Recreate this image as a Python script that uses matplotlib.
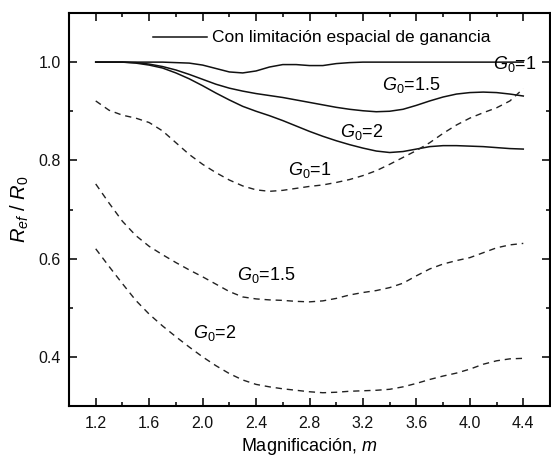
import matplotlib
matplotlib.use("Agg")
import matplotlib.pyplot as plt
import numpy as np

plt.rcParams["font.family"] = ["Liberation Sans", "DejaVu Sans"]
plt.rcParams["mathtext.fontset"] = "custom"
plt.rcParams["mathtext.rm"] = "Liberation Sans"
plt.rcParams["mathtext.it"] = "Liberation Sans:italic"

# magnification values
m = [1.2, 1.3, 1.4, 1.5, 1.6, 1.7, 1.8, 1.9, 2.0, 2.1, 2.2, 2.3, 2.4, 2.5, 2.6, 2.7, 2.8,
     2.9, 3.0, 3.1, 3.2, 3.3, 3.4, 3.5, 3.6, 3.7, 3.8, 3.9, 4.0, 4.1, 4.2, 4.3, 4.4]

# with spatial gain limitation (solid)
lim_g1 = [1.0, 1.0, 1.0, 1.0, 1.0, 1.0, 0.999, 0.998, 0.994, 0.987, 0.980, 0.978, 0.982,
          0.990, 0.995, 0.995, 0.993, 0.993, 0.997, 0.999, 1.0, 1.0, 1.0, 1.0, 1.0, 1.0,
          1.0, 1.0, 1.0, 1.0, 1.0, 1.0, 1.0]
lim_g15 = [1.0, 1.0, 1.0, 0.999, 0.996, 0.991, 0.984, 0.975, 0.965, 0.955, 0.947, 0.941,
           0.936, 0.932, 0.928, 0.923, 0.918, 0.913, 0.908, 0.904, 0.901, 0.899, 0.900,
           0.904, 0.912, 0.921, 0.929, 0.935, 0.938, 0.939, 0.938, 0.935, 0.931]
lim_g2 = [1.0, 1.0, 1.0, 0.998, 0.994, 0.988, 0.978, 0.966, 0.952, 0.937, 0.923, 0.910,
          0.900, 0.891, 0.881, 0.870, 0.859, 0.849, 0.840, 0.832, 0.825, 0.819, 0.816,
          0.818, 0.823, 0.828, 0.830, 0.830, 0.829, 0.828, 0.826, 0.824, 0.823]

# without limitation (dashed)
free_g1 = [0.921, 0.902, 0.892, 0.886, 0.877, 0.860, 0.836, 0.812, 0.792, 0.775, 0.760,
           0.748, 0.740, 0.737, 0.739, 0.743, 0.747, 0.750, 0.755, 0.761, 0.769, 0.779,
           0.792, 0.806, 0.820, 0.836, 0.855, 0.872, 0.886, 0.897, 0.907, 0.921, 0.946]
free_g15 = [0.752, 0.713, 0.676, 0.647, 0.625, 0.608, 0.592, 0.577, 0.563, 0.548, 0.533,
            0.522, 0.518, 0.516, 0.515, 0.513, 0.512, 0.514, 0.519, 0.526, 0.531, 0.535,
            0.541, 0.550, 0.565, 0.579, 0.589, 0.596, 0.602, 0.612, 0.622, 0.628, 0.631]
free_g2 = [0.620, 0.584, 0.549, 0.515, 0.487, 0.463, 0.441, 0.420, 0.400, 0.382, 0.366,
           0.353, 0.344, 0.339, 0.335, 0.332, 0.329, 0.327, 0.328, 0.330, 0.331, 0.332,
           0.334, 0.339, 0.346, 0.354, 0.361, 0.367, 0.375, 0.385, 0.392, 0.396, 0.397]

labels = [
    # text, x, y
    ("1", 4.17, 0.997),
    ("1.5", 3.34, 0.953),
    ("2", 3.03, 0.858),
    ("1", 2.64, 0.780),
    ("1.5", 2.26, 0.566),
    ("2", 1.925, 0.448),
]

fig = plt.figure(figsize=(5.51, 4.59), dpi=100)
ax = fig.add_axes([69 / 551, 1 - 406 / 459, 481 / 551, 393 / 459])

for ys in (lim_g1, lim_g15, lim_g2):
    ax.plot(m, ys, color="#111111", linewidth=1.1, solid_joinstyle="round")
for ys in (free_g1, free_g15, free_g2):
    ax.plot(m, ys, color="#222222", linewidth=1.0, dashes=(4.5, 3.5))

# legend entry drawn by hand, like the original
ax.plot([1.63, 2.03], [1.051, 1.051], color="#111111", linewidth=1.1)
ax.text(2.07, 1.051, "Con limitación espacial de ganancia", fontsize=12.5, va="center")

for txt, x, y in labels:
    ax.text(x, y, r"$G_{\mathit{0}}$=" + txt, fontsize=13, va="center", ha="left")

ax.set_xlim(1.0, 4.6)
ax.set_ylim(0.3, 1.1)
ax.set_xticks(np.arange(1.2, 4.41, 0.4))
ax.set_xticks(np.arange(1.4, 4.3, 0.4), minor=True)
ax.set_yticks([0.4, 0.6, 0.8, 1.0])
ax.set_yticks([0.3, 0.5, 0.7, 0.9, 1.1], minor=True)
ax.xaxis.set_major_formatter(matplotlib.ticker.FormatStrFormatter("%.1f"))
ax.yaxis.set_major_formatter(matplotlib.ticker.FormatStrFormatter("%.1f"))

ax.tick_params(which="both", direction="in", top=True, right=True, width=1.2,
               labelsize=11.5, colors="#111111")
ax.tick_params(which="major", length=6)
ax.tick_params(which="minor", length=3)
ax.tick_params(axis="x", pad=7)
ax.tick_params(axis="y", pad=6)
for sp in ax.spines.values():
    sp.set_linewidth(1.5)

ax.set_xlabel(r"Magnificación, $m$", fontsize=13, labelpad=4)
ax.set_ylabel(r"$R_{\mathit{ef}}$ / $R_{\mathit{0}}$", fontsize=14.5, labelpad=5)

fig.savefig("out.png", dpi=100)
